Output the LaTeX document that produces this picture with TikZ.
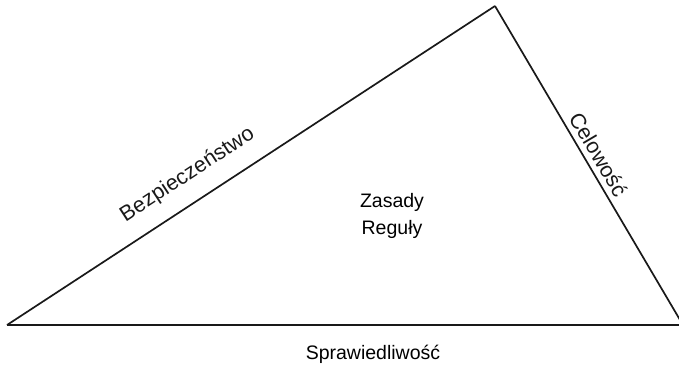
\documentclass[tikz,border=0pt]{standalone}
\usepackage{fontspec}
\setmainfont{Liberation Sans}
\usetikzlibrary{positioning}

\begin{document}
\begin{tikzpicture}[
    x=1pt, y=-1pt,
    edge/.style={line width=1.7pt, black!90},
    label/.style={font=\fontsize{19.5}{23}\selectfont, inner sep=3pt},
    sidelabel/.style={font=\fontsize{21.5}{25}\selectfont, inner sep=3pt, sloped},
    inner/.style={font=\fontsize{19.5}{27}\selectfont, align=center}
  ]
    \useasboundingbox (0,0) rectangle (679,367);

    \coordinate (L) at (7,325);
    \coordinate (T) at (495,6);
    \coordinate (R) at (683,325);

    \draw[edge] (L) -- node[sidelabel, above=13pt, pos=0.40] (bez) {Bezpieczeństwo} (T);
    \draw[edge] (T) -- node[sidelabel, above=2pt, pos=0.487] (cel) {Celowość} (R);
    \draw[edge] (L) -- (R);

    \node[label] (spr) at (373,354) {Sprawiedliwość};
    \node[inner] (zas) at (392,216) {Zasady\\Reguły};
  \end{tikzpicture}
\end{document}
